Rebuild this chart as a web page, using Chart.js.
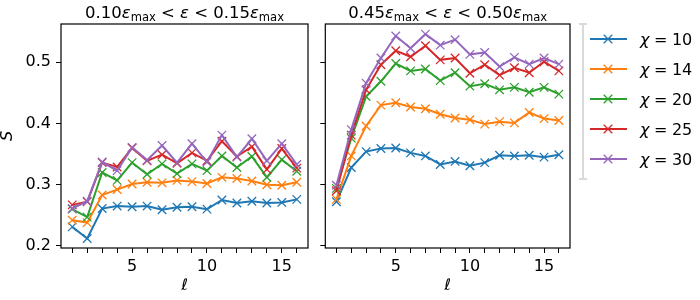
<!DOCTYPE html>
<html>
<head>
<meta charset="utf-8">
<script src="https://cdn.jsdelivr.net/npm/chart.js@4.4.1/dist/chart.umd.min.js"></script>
<style>
  html, body { margin: 0; padding: 0; background: #fff; }
  #wrap { position: relative; width: 700px; height: 300px; overflow: hidden; }
  #left { position: absolute; left: 0; top: 0; }
  #right { position: absolute; left: 318px; top: 0; }
</style>
</head>
<body>
<div id="wrap">
  <canvas id="left" width="318" height="300"></canvas>
  <canvas id="right" width="382" height="300"></canvas>
</div>
<script>
// ell values on x
const ells = [1, 2, 3, 4, 5, 6, 7, 8, 9, 10, 11, 12, 13, 14, 15, 16];
const chis = [10, 14, 20, 25, 30];
const colors = ['#1f77b4', '#ff7f0e', '#2ca02c', '#d62728', '#9467bd'];

// 0.10 < eps < 0.15
const lowChi10 = [0.231, 0.212, 0.261, 0.265, 0.264, 0.265, 0.259, 0.263, 0.264, 0.260, 0.275, 0.270, 0.273, 0.270, 0.271, 0.276];
const lowChi14 = [0.242, 0.238, 0.283, 0.292, 0.301, 0.304, 0.303, 0.307, 0.305, 0.302, 0.312, 0.310, 0.306, 0.300, 0.299, 0.304];
const lowChi20 = [0.260, 0.247, 0.320, 0.307, 0.336, 0.317, 0.334, 0.318, 0.334, 0.323, 0.347, 0.328, 0.346, 0.312, 0.341, 0.322];
const lowChi25 = [0.267, 0.272, 0.336, 0.329, 0.360, 0.339, 0.349, 0.335, 0.352, 0.339, 0.371, 0.346, 0.362, 0.325, 0.359, 0.327];
const lowChi30 = [0.261, 0.273, 0.337, 0.323, 0.361, 0.340, 0.364, 0.336, 0.367, 0.337, 0.381, 0.345, 0.375, 0.339, 0.367, 0.333];

// 0.45 < eps < 0.50
const highChi10 = [0.272, 0.328, 0.354, 0.359, 0.360, 0.352, 0.347, 0.333, 0.338, 0.331, 0.336, 0.348, 0.347, 0.348, 0.345, 0.349];
const highChi14 = [0.276, 0.347, 0.396, 0.430, 0.434, 0.427, 0.424, 0.415, 0.409, 0.406, 0.399, 0.403, 0.401, 0.418, 0.408, 0.405];
const highChi20 = [0.294, 0.376, 0.444, 0.469, 0.498, 0.486, 0.489, 0.470, 0.483, 0.461, 0.465, 0.455, 0.459, 0.451, 0.459, 0.448];
const highChi25 = [0.290, 0.381, 0.455, 0.496, 0.519, 0.509, 0.527, 0.504, 0.507, 0.482, 0.496, 0.479, 0.491, 0.483, 0.501, 0.486];
const highChi30 = [0.299, 0.390, 0.466, 0.507, 0.543, 0.523, 0.546, 0.528, 0.537, 0.513, 0.516, 0.493, 0.508, 0.497, 0.507, 0.497];

const xTickLabels = [5, 10, 15];
const yTicks = [0.2, 0.3, 0.4, 0.5];

const FONT = 'DejaVu Sans';

// little "math" text runs: r = roman, i = italic, s = subscript, g = gap in px
function fontFor(k, size) {
  if (k === 'i') return 'italic ' + size + 'px "' + FONT + '"';
  if (k === 's') return (size * 0.7) + 'px "' + FONT + '"';
  return size + 'px "' + FONT + '"';
}
function mathWidth(ctx, parts, size) {
  let w = 0;
  for (const [t, k] of parts) {
    if (k === 'g') { w += t; continue; }
    ctx.font = fontFor(k, size);
    w += ctx.measureText(t).width;
  }
  return w;
}
function drawMath(ctx, parts, x, y, align, size) {
  let cx = align === 'center' ? x - mathWidth(ctx, parts, size) / 2 : x;
  ctx.textBaseline = 'alphabetic';
  ctx.textAlign = 'left';
  ctx.fillStyle = '#000';
  for (const [t, k] of parts) {
    if (k === 'g') { cx += t; continue; }
    ctx.font = fontFor(k, size);
    ctx.fillText(t, cx, k === 's' ? y + 3 : y);
    cx += ctx.measureText(t).width;
  }
}

function titleParts(a, b) {
  return [[a, 'r'], ['ε', 'i'], ['max', 's'], [5.2, 'g'], ['<', 'r'], [5.2, 'g'], ['ε', 'i'], [5.2, 'g'], ['<', 'r'], [5.2, 'g'], [b, 'r'], ['ε', 'i'], ['max', 's']];
}

const framePlugin = {
  id: 'frame',
  afterDraw(chart, args, opts) {
    const ctx = chart.ctx;
    const a = chart.chartArea;
    ctx.save();
    ctx.strokeStyle = '#000';
    ctx.lineWidth = 1.2;
    ctx.strokeRect(a.left, a.top, a.right - a.left, a.bottom - a.top);
    drawMath(ctx, opts.title, (a.left + a.right) / 2, 18, 'center', 16.5);

    if (opts.legend) {
      // grey bar with caps
      const bx = a.right + 13;
      ctx.strokeStyle = '#d9d9d9';
      ctx.lineWidth = 2;
      ctx.beginPath();
      ctx.moveTo(bx, a.top); ctx.lineTo(bx, 179);
      ctx.moveTo(bx - 4, a.top); ctx.lineTo(bx + 4, a.top);
      ctx.moveTo(bx - 4, 179); ctx.lineTo(bx + 4, 179);
      ctx.stroke();
      chis.forEach((c, i) => {
        const y = 39 + 30 * i;
        const x0 = a.right + 20, x1 = a.right + 57, xm = a.right + 38;
        ctx.strokeStyle = colors[i];
        ctx.lineWidth = 2;
        ctx.beginPath(); ctx.moveTo(x0, y); ctx.lineTo(x1, y); ctx.stroke();
        ctx.lineWidth = 1.3;
        ctx.beginPath();
        ctx.moveTo(xm - 4.3, y - 4.3); ctx.lineTo(xm + 4.3, y + 4.3);
        ctx.moveTo(xm - 4.3, y + 4.3); ctx.lineTo(xm + 4.3, y - 4.3);
        ctx.stroke();
        drawMath(ctx, [['χ', 'i'], [4.5, 'g'], ['=', 'r'], [4.5, 'g'], [String(c), 'r']], a.right + 70, y + 6, 'left', 16);
      });
    }
    ctx.restore();
  }
};

function makeSets(series) {
  return series.map((arr, i) => ({
    label: 'χ = ' + chis[i],
    data: ells.map((x, k) => ({ x: x, y: arr[k] })),
    borderColor: colors[i],
    backgroundColor: colors[i],
    borderWidth: 2,
    tension: 0,
    fill: false,
    pointStyle: 'crossRot',
    pointRadius: 6,
    pointHoverRadius: 6,
    pointBorderWidth: 1.3,
    pointBorderColor: colors[i],
    order: series.length - i
  }));
}

const tickGrid = { drawOnChartArea: false, drawTicks: true, tickLength: 5, tickColor: '#000', color: '#000', lineWidth: 1 };

function xScale() {
  return {
    type: 'linear', min: 0.25, max: 16.75,
    afterFit(s) { s.height = 52; },
    grid: tickGrid,
    border: { display: false },
    ticks: {
      stepSize: 1, includeBounds: false, autoSkip: false, maxRotation: 0, padding: 4,
      color: '#000', font: { family: FONT, size: 16 },
      callback: v => xTickLabels.includes(v) ? String(v) : ''
    },
    title: { display: true, text: 'ℓ', color: '#000', font: { family: FONT, size: 16, style: 'italic' }, padding: { top: 0, bottom: 5 } }
  };
}

function yScale(labels) {
  return {
    type: 'linear', min: 0.1965, max: 0.5626,
    afterFit(s) { s.width = labels ? 61 : 7; },
    grid: tickGrid,
    border: { display: false },
    ticks: {
      stepSize: 0.1, includeBounds: false, padding: 5,
      color: '#000', font: { family: FONT, size: 16 },
      callback: v => labels && yTicks.some(t => Math.abs(t - v) < 1e-6) ? v.toFixed(1) : ''
    },
    title: { display: labels, text: 'S', color: '#000', font: { family: FONT, size: 16, style: 'italic', lineHeight: 1 }, padding: 0 }
  };
}

function makeChart(id, series, title, legend, padRight) {
  return new Chart(document.getElementById(id), {
    type: 'line',
    data: { datasets: makeSets(series) },
    options: {
      responsive: false,
      animation: false,
      layout: { padding: { top: 24, right: padRight, bottom: 0, left: 0 } },
      scales: { x: xScale(), y: yScale(!legend) },
      plugins: {
        legend: { display: false },
        tooltip: { enabled: false },
        frame: { title: title, legend: legend }
      }
    },
    plugins: [framePlugin]
  });
}

makeChart('left', [lowChi10, lowChi14, lowChi20, lowChi25, lowChi30], titleParts('0.10', '0.15'), false, 10);
makeChart('right', [highChi10, highChi14, highChi20, highChi25, highChi30], titleParts('0.45', '0.50'), true, 130);
</script>
</body>
</html>
